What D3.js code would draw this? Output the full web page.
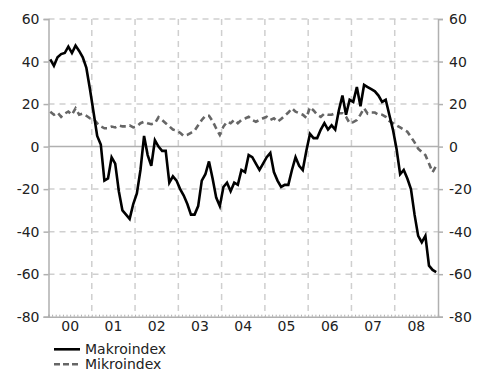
<!DOCTYPE html>
<html>
<head>
<meta charset="utf-8">
<script src="https://cdn.jsdelivr.net/npm/d3@7"></script>
<style>
  html, body { margin: 0; padding: 0; background: #fff; }
  svg { display: block; }
  text { font-family: "DejaVu Sans", Verdana, sans-serif; fill: #222; }
</style>
</head>
<body>
<svg id="chart" width="487" height="372"></svg>
<script>
// Monthly index values, Jan 2000 – Dec 2008
const years = ["00", "01", "02", "03", "04", "05", "06", "07", "08"];
const yTicks = [60, 40, 20, 0, -20, -40, -60, -80];

const makroindex = [
  41, 38, 42, 43.5, 44, 47, 44, 47.5, 45, 42, 37, 27,
  16, 5, 1, -16, -15, -5, -8, -21, -30, -32, -34, -27,
  -22, -11, 5, -4, -9, 3, 0, -2, -2, -17, -14, -16,
  -20, -23, -27, -32, -32, -28, -16, -13, -7, -15, -24, -28,
  -19, -17, -21, -17, -18, -11, -12, -4, -5, -8, -11, -8,
  -5, -3, -12, -16, -19, -18, -18, -11, -5, -9, -11, -2,
  6, 4, 4, 8, 11, 8, 10, 8, 17, 24, 15, 22,
  21, 28, 19, 29, 28, 27, 26, 24, 21, 22, 15, 8,
  -1, -13, -11, -15, -20, -32, -42, -45, -42, -56, -58, -59
];

const mikroindex = [
  16.4, 15, 16, 14, 15.5, 16.5, 15, 18, 15, 15.5, 14.5, 13.3,
  13, 11, 9.5, 8.6, 8.6, 9.4, 9, 10, 9.5, 9.5, 10, 9,
  9.5, 11, 11.7, 11, 10.5, 11, 13.8, 12.5, 11, 9.5, 8, 7.5,
  6.5, 5, 5.5, 6.5, 7.5, 10, 12.5, 14.5, 14.5, 12, 8.5, 5.5,
  9.4, 11.7, 11, 12.5, 11, 12.5, 13.2, 14, 12.5, 11.7, 12.5, 13.3,
  14, 12.5, 13.3, 11.7, 13, 14.5, 16, 18, 16.4, 15.7, 15, 13.5,
  18.5, 17, 15, 14, 15.5, 15, 15, 15.7, 15.7, 15.7, 14, 11,
  11.5, 12.5, 15, 18, 15.5, 16, 16, 15, 15, 14, 12, 11,
  10, 9, 8, 7, 4.5, 2, -1, -2.5, -4, -8, -12, -9
];

const seriesNames = ["Makroindex", "Mikroindex"];

const svg = d3.select("#chart");
const plotLeft = 48.5, plotRight = 438, plotTop = 19, plotBottom = 316.7;
const nMonths = years.length * 12;

const x = d3.scaleLinear().domain([0, nMonths]).range([plotLeft, plotRight]);
const y = d3.scaleLinear().domain([-80, 60]).range([plotBottom, plotTop]);

const gridColor = "#cfcfcf";
const axisColor = "#b0b0b0";

// Horizontal dashed grid
svg.append("g").selectAll("line")
  .data(yTicks.filter(v => v !== 0 && v !== -80))
  .join("line")
  .attr("x1", plotLeft).attr("x2", plotRight)
  .attr("y1", d => y(d)).attr("y2", d => y(d))
  .attr("stroke", gridColor).attr("stroke-width", 1.5)
  .attr("stroke-dasharray", "6,5");

// Vertical dashed grid at year boundaries
svg.append("g").selectAll("line")
  .data(d3.range(1, years.length))
  .join("line")
  .attr("x1", d => x(d * 12)).attr("x2", d => x(d * 12))
  .attr("y1", plotTop).attr("y2", plotBottom)
  .attr("stroke", gridColor).attr("stroke-width", 1.5)
  .attr("stroke-dasharray", "6,5");

// Zero line
svg.append("line")
  .attr("x1", plotLeft).attr("x2", plotRight)
  .attr("y1", y(0)).attr("y2", y(0))
  .attr("stroke", axisColor).attr("stroke-width", 1.5);

// Left and right value axes
const leftAxis = svg.append("g")
  .attr("transform", `translate(${plotLeft},0)`)
  .call(d3.axisLeft(y).tickValues(yTicks).tickSize(5).tickPadding(4));
const rightAxis = svg.append("g")
  .attr("transform", `translate(${plotRight},0)`)
  .call(d3.axisRight(y).tickValues(yTicks).tickSize(5).tickPadding(6));

[leftAxis, rightAxis].forEach(g => {
  g.select(".domain").attr("stroke", axisColor).attr("stroke-width", 1.5);
  g.selectAll(".tick line").attr("stroke", axisColor).attr("stroke-width", 1.5);
  g.selectAll(".tick text")
    .attr("font-size", 14)
    .attr("fill", "#222")
    .attr("font-family", "DejaVu Sans, Verdana, sans-serif")
    .text(d => (d < 0 ? "-" + Math.abs(d) : String(d)));
});

// Bottom axis with monthly minor ticks
const bottomAxis = svg.append("g")
  .attr("transform", `translate(0,${plotBottom})`)
  .call(d3.axisBottom(x).tickValues(d3.range(0, nMonths + 1)).tickSize(-2).tickFormat(""));
bottomAxis.select(".domain").attr("stroke", axisColor).attr("stroke-width", 1.5);
bottomAxis.selectAll(".tick line").attr("stroke", axisColor).attr("stroke-width", 1);

// Year labels centred in each year
svg.append("g").selectAll("text")
  .data(years)
  .join("text")
  .attr("x", (d, i) => x(i * 12 + 6))
  .attr("y", plotBottom + 14)
  .attr("text-anchor", "middle")
  .attr("font-size", 14)
  .text(d => d);

// Series lines
const line = d3.line()
  .x((d, i) => x(i + 0.5))
  .y(d => y(d));

svg.append("path")
  .datum(mikroindex)
  .attr("d", line)
  .attr("fill", "none")
  .attr("stroke", "#666")
  .attr("stroke-width", 2.6)
  .attr("stroke-dasharray", "6,4");

svg.append("path")
  .datum(makroindex)
  .attr("d", line)
  .attr("fill", "none")
  .attr("stroke", "#000")
  .attr("stroke-width", 2.6)
  .attr("stroke-linejoin", "miter");

// Legend
const legend = svg.append("g");
const legendStyles = [
  { color: "#000", dash: null },
  { color: "#666", dash: "6,3" }
];
seriesNames.forEach((name, i) => {
  const ly = 349.3 + i * 15;
  legend.append("line")
    .attr("x1", 54).attr("x2", 80)
    .attr("y1", ly).attr("y2", ly)
    .attr("stroke", legendStyles[i].color)
    .attr("stroke-width", 2.6)
    .attr("stroke-dasharray", legendStyles[i].dash);
  legend.append("text")
    .attr("x", 85)
    .attr("y", ly + 5)
    .attr("font-size", 14)
    .text(name);
});
</script>
</body>
</html>
